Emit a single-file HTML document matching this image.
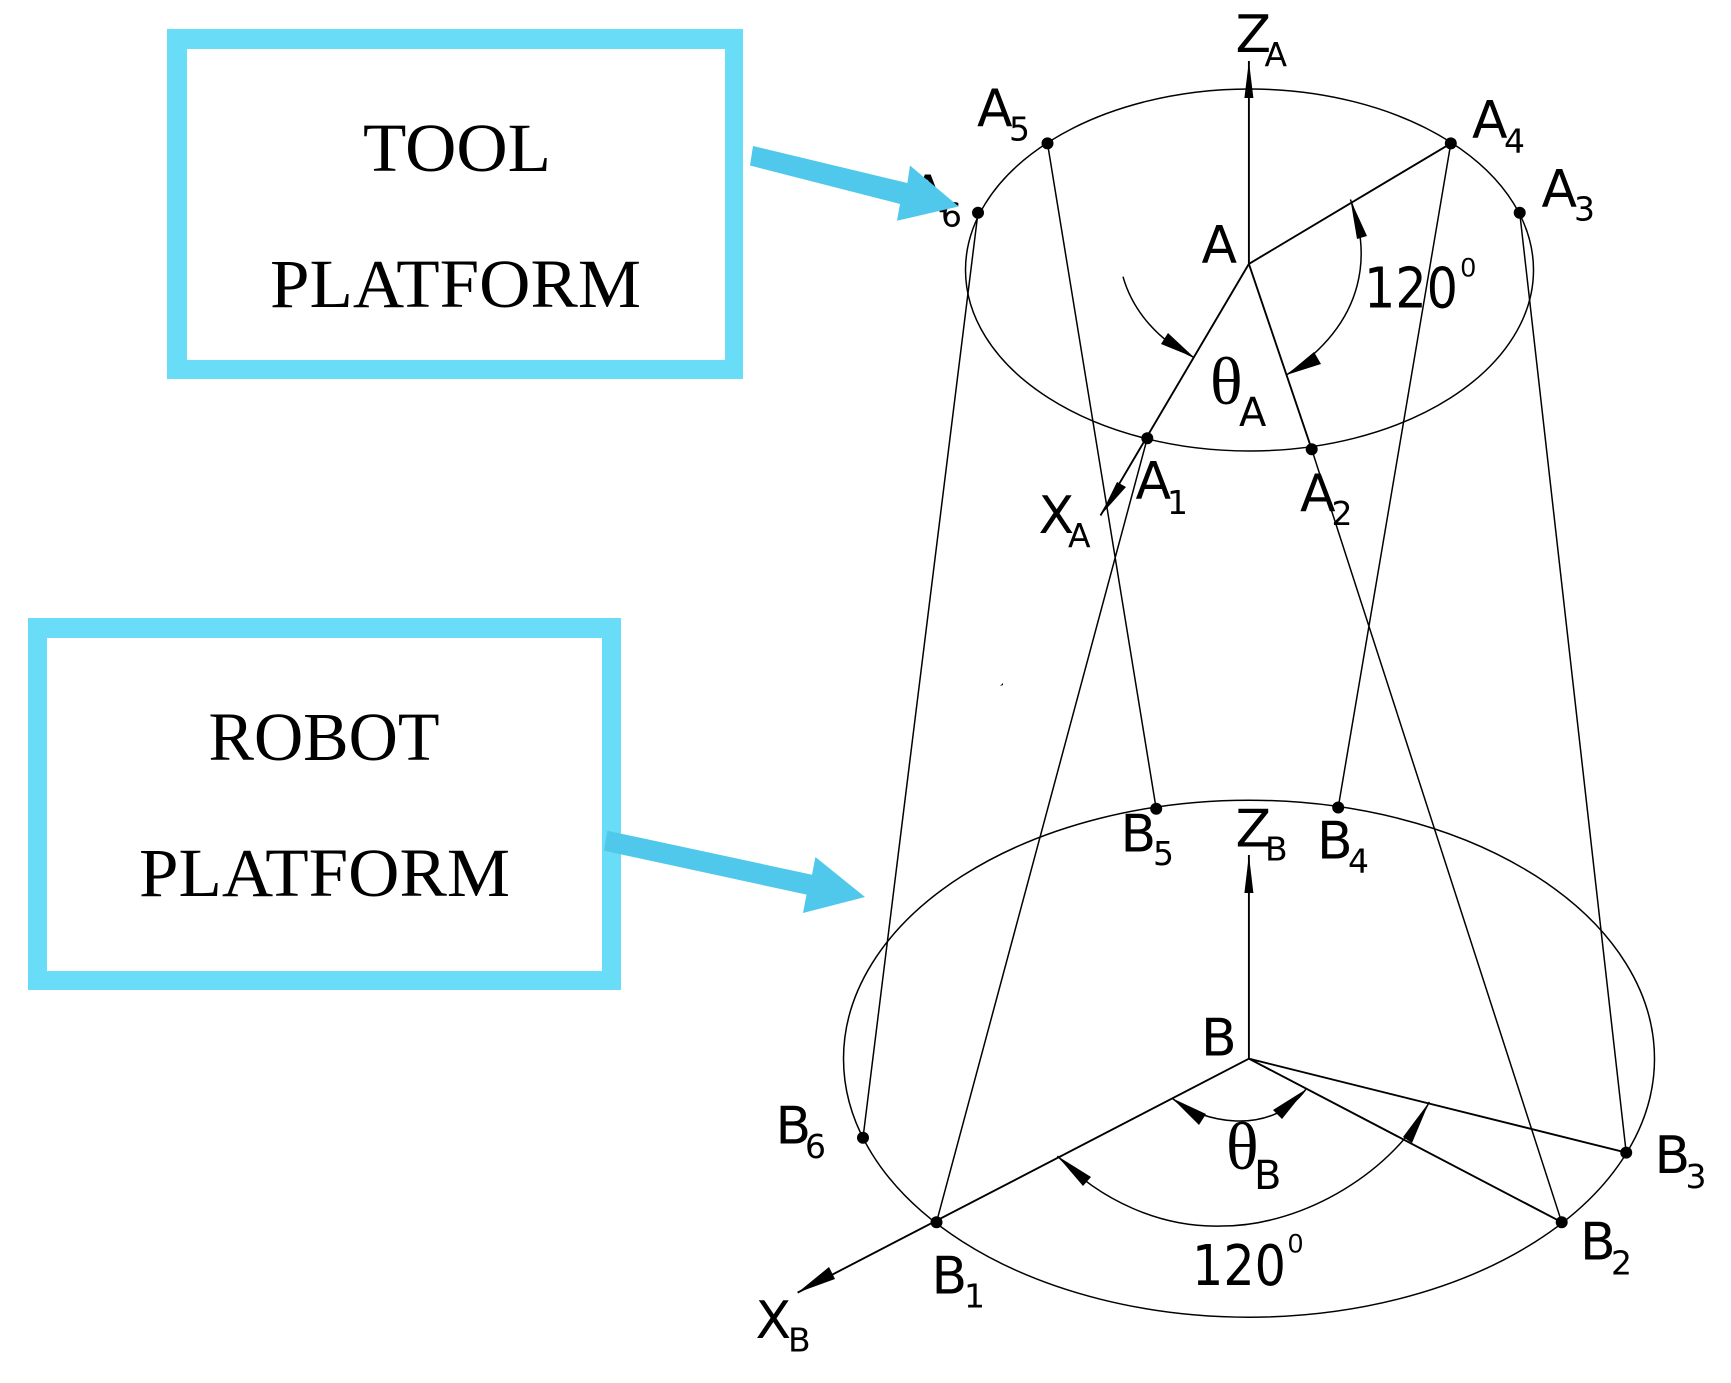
<!DOCTYPE html>
<html><head><meta charset="utf-8"><style>
html,body{margin:0;padding:0;background:#fff}
svg{display:block}
.s{font-family:"DejaVu Sans",sans-serif;font-size:52px;fill:#000}
.u{font-family:"DejaVu Sans",sans-serif;font-size:33px;fill:#000}
.n{font-family:"DejaVu Sans",sans-serif;font-size:56px;fill:#000}
.p{font-family:"Liberation Sans",sans-serif;font-size:27px;fill:#000}
.t{font-family:"Liberation Serif",serif;font-size:69px;fill:#000}
.h{font-family:"Liberation Serif","DejaVu Serif",serif;font-size:68px;fill:#000}
.l{fill:none;stroke:#000;stroke-width:1.5}
.k{fill:none;stroke:#000;stroke-width:1.9}
</style></head><body>
<svg width="1731" height="1383" viewBox="0 0 1731 1383" xmlns="http://www.w3.org/2000/svg">
<rect width="1731" height="1383" fill="#fff"/>
<path fill="#69dcf8" fill-rule="evenodd" d="M167 29H743V379H167ZM187 49V360H725V49Z"/>
<path fill="#69dcf8" fill-rule="evenodd" d="M28 618H621V990H28ZM47 638V971H602V638Z"/>
<text class="t" x="363" y="171" textLength="188" lengthAdjust="spacingAndGlyphs">TOOL</text>
<text class="t" x="270" y="307" textLength="371" lengthAdjust="spacingAndGlyphs">PLATFORM</text>
<text class="t" x="208.500" y="760" textLength="231" lengthAdjust="spacingAndGlyphs">ROBOT</text>
<text class="t" x="139" y="896" textLength="371" lengthAdjust="spacingAndGlyphs">PLATFORM</text>

<ellipse class="l" cx="1249.500" cy="270" rx="284" ry="181"/>
<ellipse class="l" cx="1249" cy="1058.700" rx="405.500" ry="258.500"/>

<!-- legs -->
<path class="l" d="M978 212.700L863 1137.800M1147.300 438.200L936.500 1222.200M1047.500 143.400L1156.200 808.800M1450.800 143.400L1338.200 807.500M1311.700 449.300L1561.700 1222.200M1519.700 212.700L1626.200 1152.600"/>

<!-- A frame -->
<path class="k" d="M1248.900 61V263.900M1450.800 143.400L1248.900 263.900M1248.900 263.900L1100.500 515.500M1248.900 263.900L1311.700 449.300"/>
<path d="M1248.900 61L1244.400 98H1253.400Z"/>
<path d="M1100.500 515.500L1117 482L1126 487Z"/>
<path class="l" d="M1123 276.700C1133 312 1160 342 1194.200 357.500"/>
<path d="M1194.200 357.500L1161 344L1168 333Z"/>
<path class="l" d="M1350.400 199.500C1370 250 1370 320 1286.400 375"/>
<path d="M1350.400 199.500L1367 236L1357 239Z"/>
<path d="M1286.400 375L1314 352L1321 364Z"/>

<!-- B frame -->
<path class="k" d="M1248.900 855V1058.700M1248.900 1058.700L797.600 1292.600M1248.900 1058.700L1561.700 1222.200M1248.900 1058.700L1626.200 1152.600"/>
<path d="M1248.900 855L1244.400 893H1253.400Z"/>
<path d="M797.600 1292.600L829 1267L835 1279Z"/>
<path class="l" d="M1172.200 1098.300C1200 1122 1270 1138 1305.700 1089.500"/>
<path d="M1172.200 1098.300L1206 1114L1199 1125Z"/>
<path d="M1305.700 1089.500L1282 1119L1273 1110Z"/>
<path class="l" d="M1057.400 1156C1100 1200 1160 1228 1222 1226C1305 1226 1395 1170 1429.300 1101.900"/>
<path d="M1057.400 1156L1091 1177L1083 1186Z"/>
<path d="M1429.300 1101.900L1412 1143L1403 1137Z"/>

<!-- dots -->
<g fill="#000">
<circle cx="1047.500" cy="143.400" r="6"/><circle cx="1450.800" cy="143.400" r="6"/><circle cx="978" cy="212.700" r="6"/><circle cx="1519.700" cy="212.700" r="6"/><circle cx="1147.300" cy="438.200" r="6"/><circle cx="1311.700" cy="449.300" r="6"/>
<circle cx="1156.200" cy="808.800" r="6"/><circle cx="1338.200" cy="807.500" r="6"/><circle cx="863" cy="1137.800" r="6"/><circle cx="936.500" cy="1222.200" r="6"/><circle cx="1561.700" cy="1222.200" r="6"/><circle cx="1626.200" cy="1152.600" r="6"/>
<path d="M1000 686L1003 683L1003 685Z"/>
</g>

<!-- labels -->
<text class="s" x="1235.500" y="52">Z</text><text class="u" x="1264.500" y="66.200">A</text>
<text class="s" x="977" y="125.800">A</text><text class="u" x="1009" y="140.300">5</text>
<text class="s" x="1472" y="137.700">A</text><text class="u" x="1504" y="152.300">4</text>
<text class="s" x="1541.500" y="206.500">A</text><text class="u" x="1574" y="220.700">3</text>
<text class="s" x="910" y="212">A</text><text class="u" x="941" y="226.400">6</text>
<text class="s" x="1201.500" y="262.600">A</text>
<text class="n" x="1364" y="307.600" textLength="94" lengthAdjust="spacingAndGlyphs">120</text><text class="p" x="1460.700" y="276.700">0</text>
<text class="h" x="1210" y="403.800">θ</text><text class="s" style="font-size:40px" x="1239" y="425.900">A</text>
<text class="s" x="1135.500" y="498.700">A</text><text class="u" x="1167" y="514">1</text>
<text class="s" x="1300" y="511">A</text><text class="u" x="1331.500" y="525.200">2</text>
<text class="s" x="1038.500" y="533">X</text><text class="u" x="1068" y="547">A</text>

<text class="s" x="1120.500" y="851.500">B</text><text class="u" x="1153" y="865.200">5</text>
<text class="s" x="1235.500" y="846.300">Z</text><text class="u" x="1265" y="860.400">B</text>
<text class="s" x="1317" y="858.600">B</text><text class="u" x="1348" y="872.700">4</text>
<text class="s" x="1201" y="1055.600">B</text>
<text class="s" x="1654.500" y="1173">B</text><text class="u" x="1685.500" y="1187.800">3</text>
<text class="s" x="1580" y="1259.600">B</text><text class="u" x="1611" y="1274.600">2</text>
<text class="s" x="931.500" y="1293.600">B</text><text class="u" x="964" y="1307.700">1</text>
<text class="s" x="775.500" y="1143.300">B</text><text class="u" x="805" y="1158">6</text>
<text class="n" x="1192" y="1284.800" textLength="94" lengthAdjust="spacingAndGlyphs">120</text><text class="p" x="1288" y="1252.600">0</text>
<text class="h" x="1226" y="1168.900">θ</text><text class="s" style="font-size:40px" x="1254" y="1189">B</text>
<text class="s" x="755.500" y="1338">X</text><text class="u" x="788" y="1351.600">B</text>

<!-- blue arrows -->
<path fill="#50c8ec" d="M753 146L907.400 183L910 165.500L958.700 206.500L897 220.700L900 204L750 165.500Z"/>
<path fill="#50c8ec" d="M607.400 830.700L812 874.700L815.400 857L865 897L803 913L806.500 894.600L604 850.700Z"/>
</svg>
</body></html>
